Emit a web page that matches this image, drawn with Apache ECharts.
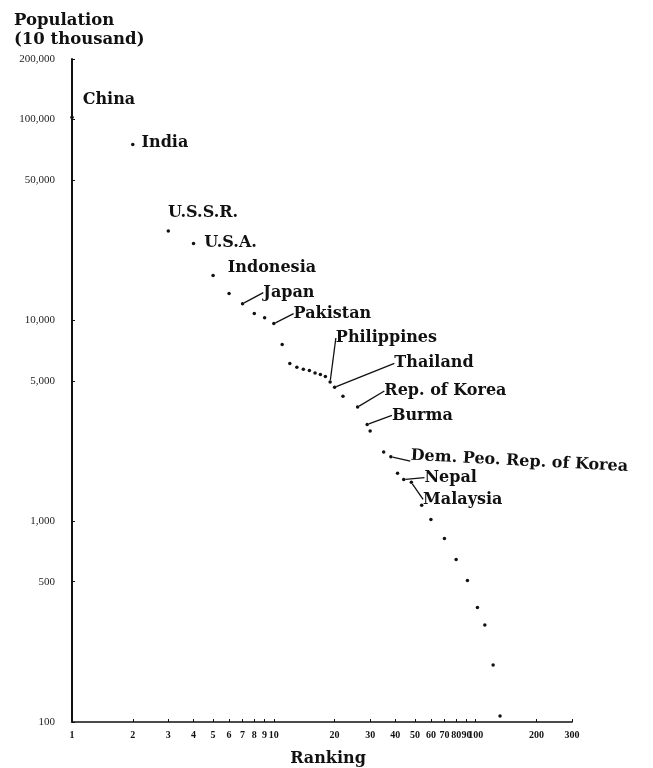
<!DOCTYPE html>
<html>
<head>
<meta charset="utf-8">
<script src="https://cdn.jsdelivr.net/npm/echarts@6/dist/echarts.min.js"></script>
<style>
  html, body { margin: 0; padding: 0; background: #fff; }
  #chart { width: 653px; height: 768px; }
</style>
</head>
<body>
<div id="chart"></div>
<script>
// Country population rank (x) against population in units of 10 thousand (y)
const ranks = [1, 2, 3, 4, 5, 6, 7, 8, 9, 10, 11, 12, 13, 14, 15, 16, 17, 18, 19, 20,
  22, 26, 29, 30, 35, 38, 41, 44, 48, 54, 60, 70, 80, 91, 102, 111, 122, 132];
const populations = [102600, 75100, 27800, 24100, 16700, 13600, 12100, 10800, 10300, 9630,
  7570, 6090, 5840, 5700, 5620, 5470, 5370, 5250, 4930, 4640,
  4190, 3700, 3030, 2810, 2210, 2090, 1730, 1610, 1560, 1200,
  1020, 820, 645, 507, 372, 304, 192, 107];
const countryNames = ['China', 'India', 'U.S.S.R.', 'U.S.A.', 'Indonesia', '', 'Japan', '', '', 'Pakistan',
  '', '', '', '', '', '', '', '', 'Philippines', 'Thailand',
  '', 'Rep. of Korea', 'Burma', '', '', 'Dem. Peo. Rep. of Korea', '', 'Nepal', 'Malaysia', '',
  '', '', '', '', '', '', '', ''];

const yTickValues = [100, 500, 1000, 5000, 10000, 50000, 100000, 200000];
const xTickValues = [1, 2, 3, 4, 5, 6, 7, 8, 9, 10, 20, 30, 40, 50, 60, 70, 80, 90, 100, 200, 300];

// label offsets (px) from the default right-hand position; lead = draw a leader line
const labelPlacement = {
  'China': { dx: 4, dy: -17 },
  'India': { dx: 2, dy: -2 },
  'U.S.S.R.': { dx: -7, dy: -18 },
  'U.S.A.': { dx: 4, dy: -1 },
  'Indonesia': { dx: 8, dy: -8 },
  'Japan': { dx: 14, dy: -11, lead: true },
  'Pakistan': { dx: 13, dy: -10, lead: true },
  'Philippines': { dx: -1, dy: -44, lead: true },
  'Thailand': { dx: 53, dy: -24, lead: true },
  'Rep. of Korea': { dx: 20, dy: -16, lead: true },
  'Burma': { dx: 18, dy: -9, lead: true },
  'Dem. Peo. Rep. of Korea': { dx: 13, dy: -2, lead: true, rotate: -3 },
  'Nepal': { dx: 14, dy: -2, lead: true },
  'Malaysia': { dx: 5, dy: 17, lead: true }
};

const serif = '"DejaVu Serif", "Liberation Serif", serif';
const ink = '#111111';

const points = ranks.map((r, i) => {
  const name = countryNames[i];
  const item = { value: [r, populations[i]], name: name };
  if (name) {
    const p = labelPlacement[name];
    item.label = {
      show: true,
      formatter: name,
      rotate: p.rotate || 0,
      color: ink,
      opacity: 1,
      fontFamily: serif,
      fontWeight: 'bold',
      fontSize: 16
    };
    item.labelLine = { show: !!p.lead };
  }
  return item;
});

const chart = echarts.init(document.getElementById('chart'), null, { renderer: 'canvas' });

chart.setOption({
  animation: false,
  backgroundColor: '#ffffff',
  title: {
    text: 'Population\n(10 thousand)',
    left: 9,
    top: 6,
    textStyle: { fontFamily: serif, fontWeight: 'bold', fontSize: 16.5, lineHeight: 19, color: ink }
  },
  grid: { left: 72, right: 81, top: 59, bottom: 46, outerBoundsMode: 'none', containLabel: false },
  xAxis: {
    type: 'log',
    logBase: 10,
    min: 1,
    max: 300,
    name: 'Ranking',
    nameLocation: 'middle',
    nameGap: 29,
    nameTextStyle: { fontFamily: serif, fontWeight: 'bold', fontSize: 16, color: ink, padding: [0, 0, 0, 12] },
    axisLine: { show: true, lineStyle: { color: ink, width: 1.6 } },
    axisTick: { show: true, inside: true, length: 3, customValues: xTickValues, lineStyle: { color: ink } },
    axisLabel: {
      customValues: xTickValues,
      fontFamily: '"Liberation Serif", serif',
      fontWeight: 'bold',
      fontSize: 10,
      color: ink,
      margin: 8,
      formatter: v => String(v)
    },
    splitLine: { show: false },
    minorTick: { show: false }
  },
  yAxis: {
    type: 'log',
    logBase: 10,
    min: 100,
    max: 200000,
    axisLine: { show: true, lineStyle: { color: ink, width: 2 } },
    axisTick: { show: true, inside: true, length: 3, customValues: yTickValues, lineStyle: { color: ink } },
    axisLabel: {
      customValues: yTickValues,
      fontFamily: '"Liberation Serif", serif',
      fontSize: 11,
      color: '#222',
      margin: 17,
      formatter: v => Math.round(v).toLocaleString('en-US')
    },
    splitLine: { show: false }
  },
  series: [{
    type: 'scatter',
    data: points,
    symbol: 'circle',
    symbolSize: 3.5,
    itemStyle: { color: ink, opacity: 1 },
    label: {
      show: false,
      position: 'right',
      distance: 5,
      fontFamily: serif,
      fontWeight: 'bold',
      fontSize: 16,
      color: ink
    },
    labelLine: { show: false, lineStyle: { color: ink, width: 1.3, opacity: 1 } },
    labelLayout: function (params) {
      const name = countryNames[params.dataIndex];
      const p = labelPlacement[name];
      return p ? { dx: p.dx, dy: p.dy } : {};
    },
    emphasis: { disabled: true }
  }]
});
</script>
</body>
</html>
